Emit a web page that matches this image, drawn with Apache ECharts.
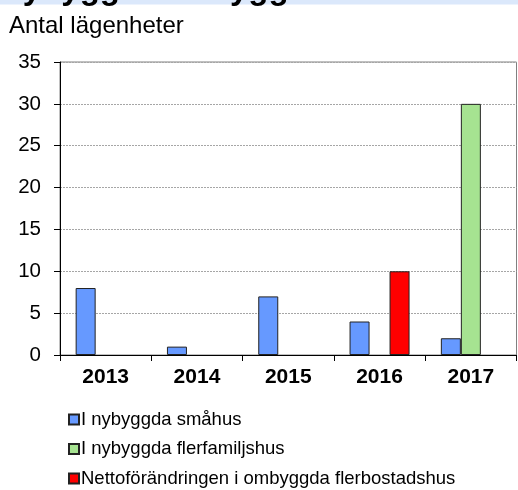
<!DOCTYPE html>
<html>
<head>
<meta charset="utf-8">
<script src="https://cdn.jsdelivr.net/npm/echarts@6/dist/echarts.min.js"></script>
<style>
html,body{margin:0;padding:0;background:#fff;}
#chart{width:518px;height:490px;}
</style>
</head>
<body>
<div id="chart"></div>
<script>
const categories = ['2013', '2014', '2015', '2016', '2017'];
const smahus = [8, 1, 7, 4, 2];
const flerfamiljshus = [0, 0, 0, 0, 30];
const ombyggda = [0, 0, 0, 10, 0];
const seriesNames = ['I nybyggda småhus', 'I nybyggda flerfamiljshus', 'Nettoförändringen i ombyggda flerbostadshus'];
const yTicks = [0, 5, 10, 15, 20, 25, 30, 35];

const hideZero = (arr) => arr.map(v => v === 0 ? '-' : v);
const chart = echarts.init(document.getElementById('chart'));
const barStyle = (c) => ({ color: c, borderColor: '#222', borderWidth: 1 });
chart.setOption({
  animation: false,
  graphic: [
    { type: 'rect', shape: { x: 0, y: 0, width: 518, height: 4.5 }, style: { fill: '#dbe8fb' }, z: 0 },
    { type: 'text', left: -1, top: -27, style: { text: 'Nybyggt - ombyggt', font: 'bold 33px Arial, "Liberation Sans"', fill: '#000' }, z: 1 },
    { type: 'text', left: 9, top: 14, style: { text: 'Antal lägenheter', font: '24px Arial, "Liberation Sans"', fill: '#000' } }
  ],
  grid: { left: 60, right: 1.5, top: 62, bottom: 135, show: true, borderColor: '#808080', borderWidth: 1 },
  legend: {
    orient: 'vertical', left: 63, top: 405, height: 90,
    itemWidth: 10, itemHeight: 10, itemGap: 10.5,
    icon: 'rect',
    textStyle: { fontFamily: 'Arial, "Liberation Sans"', fontSize: 18.5, color: '#000', padding: [0, 0, 0, -3] },
    data: seriesNames
  },
  xAxis: {
    type: 'category', data: categories,
    axisLine: { lineStyle: { color: '#000', width: 1 } },
    axisTick: { show: true, length: 6, lineStyle: { color: '#000' } },
    axisLabel: { fontFamily: 'Arial, "Liberation Sans"', fontSize: 21, fontWeight: 'bold', color: '#000', margin: 12 }
  },
  yAxis: {
    type: 'value', min: 0, max: 35, interval: 5,
    axisLine: { show: true, lineStyle: { color: '#000', width: 1 } },
    axisTick: { show: true, length: 6, lineStyle: { color: '#000' } },
    splitLine: { lineStyle: { color: '#a6a6a6', type: [2, 1], width: 1 } },
    axisLabel: { fontFamily: 'Arial, "Liberation Sans"', fontSize: 20.5, color: '#000', margin: 19,
      formatter: (v) => yTicks.includes(v) ? String(v) : '' }
  },
  series: [
    { name: seriesNames[0], type: 'bar', data: hideZero(smahus), itemStyle: barStyle('#6699ff'), barWidth: 20, barGap: '0%' },
    { name: seriesNames[1], type: 'bar', data: hideZero(flerfamiljshus), itemStyle: barStyle('#a6e391'), barWidth: 20, barGap: '0%' },
    { name: seriesNames[2], type: 'bar', data: hideZero(ombyggda), itemStyle: barStyle('#ff0000'), barWidth: 20, barGap: '0%' }
  ]
});
</script>
</body>
</html>
